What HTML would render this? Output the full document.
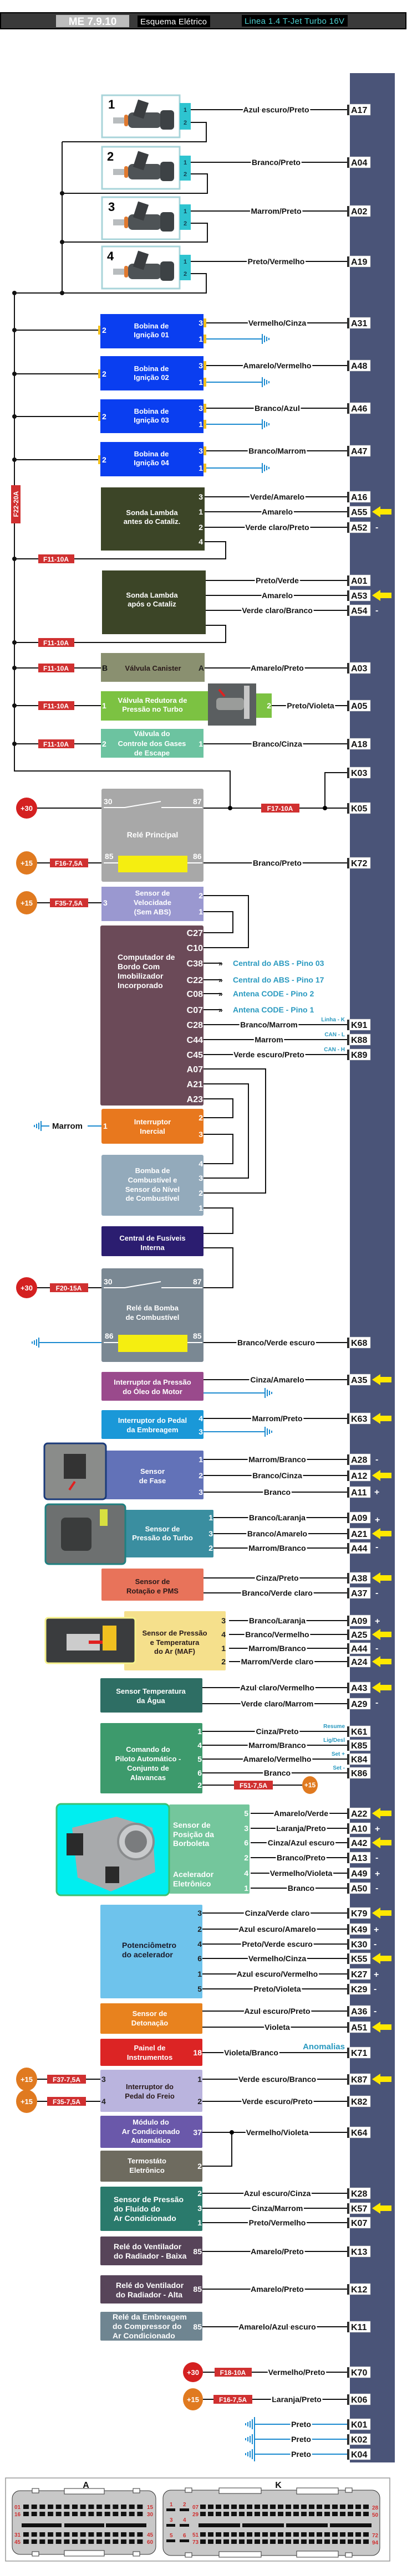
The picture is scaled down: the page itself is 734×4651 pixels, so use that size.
<!DOCTYPE html>
<html><head><meta charset="utf-8"><style>
html,body{margin:0;padding:0;background:#fff}
svg{display:block}
.w{stroke:#111;stroke-width:2;fill:none}
.b{stroke:#1a8ad0;stroke-width:2;fill:none}
.l{font:bold 14px "Liberation Sans",sans-serif;text-anchor:middle;fill:#111;stroke:#fff;stroke-width:5;paint-order:stroke}
.p{font:bold 16px "Liberation Sans",sans-serif;fill:#111}
.t{font:bold 13px "Liberation Sans",sans-serif;fill:#fff;text-anchor:middle}
.tk{font:bold 13px "Liberation Sans",sans-serif;fill:#2a1a1a;text-anchor:middle}
.n{font:bold 14px "Liberation Sans",sans-serif;fill:#fff;text-anchor:end}
.nk{font:bold 14px "Liberation Sans",sans-serif;fill:#222;text-anchor:end}
.f{font:bold 12px "Liberation Sans",sans-serif;fill:#fff;text-anchor:middle}
.c{font:bold 14px "Liberation Sans",sans-serif;fill:#2a9ac0}
.s{font:bold 10px "Liberation Sans",sans-serif;fill:#2a9ac0;text-anchor:end}
.m{font:bold 16px "Liberation Sans",sans-serif;fill:#fff}
.r{font:bold 10px "Liberation Sans",sans-serif;fill:#d03030}
</style></head><body>
<svg width="734" height="4651" viewBox="0 0 734 4651" xmlns="http://www.w3.org/2000/svg">
<defs>
<g id="pb"><rect x="626" y="-9" width="4" height="19" fill="#2a2a2a"/><rect x="630" y="-10" width="38" height="20" fill="#fff" stroke="#aaa" stroke-width=".5"/></g>
<polygon id="ar" points="671,0 686,-10 686,-5 706,-5 706,5 686,5 686,10" fill="#ffe800"/>
<path id="gr" d="M0 -9V9M4 -6V6M8 -4V4M12 -2V2" stroke="#1a8ad0" stroke-width="2" fill="none"/>
<path id="gl" d="M0 -9V9M-4 -6V6M-8 -4V4M-12 -2V2" stroke="#1a8ad0" stroke-width="2" fill="none"/>
<g id="inj">
<rect x="0" y="0" width="140" height="76" fill="#fff" stroke="#a8d4da" stroke-width="3"/>
<rect x="20" y="40" width="26" height="11" fill="#b8bcbe"/>
<rect x="40" y="35" width="7" height="21" rx="3" fill="#e07a30"/>
<rect x="47" y="31" width="60" height="28" rx="8" fill="#4e5356"/>
<rect x="105" y="27" width="25" height="35" rx="6" fill="#3d4245"/>
<rect x="60" y="10" width="20" height="30" fill="#3a3d40" transform="rotate(18 70 25)"/>
</g>
<pattern id="pa" x="42" y="0" width="14.67" height="8" patternUnits="userSpaceOnUse"><rect width="10" height="8" fill="#111"/></pattern>
<pattern id="pk" x="361" y="0" width="14" height="8" patternUnits="userSpaceOnUse"><rect width="10" height="8" fill="#111"/></pattern>
</defs>

<!-- header -->
<rect x="1" y="23" width="731" height="29" fill="#3a3a3a" stroke="#000" stroke-width="2"/>
<rect x="101" y="27" width="132" height="22" fill="#bdbdbd"/>
<text x="167" y="45" font-family="Liberation Sans" font-weight="bold" font-size="19" fill="#fff" text-anchor="middle">ME 7.9.10</text>
<rect x="248" y="28" width="131" height="21" fill="#000"/>
<text x="313" y="44" font-family="Liberation Sans" font-size="15" fill="#fff" text-anchor="middle" textLength="120">Esquema Elétrico</text>
<rect x="436" y="27" width="191" height="21" fill="#000"/>
<text x="531" y="43" font-family="Liberation Sans" font-size="15" fill="#4fd0d0" text-anchor="middle" textLength="180">Linea 1.4 T-Jet Turbo 16V</text>

<!-- ECU bar -->
<rect x="631" y="132" width="81" height="4314" fill="#4a5478"/>

<!-- injectors -->
<use href="#inj" x="184" y="172"/><use href="#inj" x="184" y="265"/><use href="#inj" x="184" y="356"/><use href="#inj" x="184" y="445"/>
<g font-family="Liberation Sans" font-weight="bold" font-size="22" fill="#000">
<text x="195" y="196">1</text><text x="193" y="290">2</text><text x="195" y="381">3</text><text x="193" y="470">4</text></g>
<g fill="#2ec4d0"><rect x="324" y="186" width="20" height="48"/><rect x="324" y="281" width="20" height="45"/><rect x="324" y="369" width="20" height="46"/><rect x="324" y="460" width="20" height="46"/></g>
<g font-family="Liberation Sans" font-weight="bold" font-size="11" fill="#145">
<text x="331" y="202">1</text><text x="331" y="225">2</text><text x="331" y="297">1</text><text x="331" y="318">2</text><text x="331" y="385">1</text><text x="331" y="407">2</text><text x="331" y="476">1</text><text x="331" y="498">2</text></g>
<path class="w" d="M344 221H372V256H112M344 314H374V349H112M344 403H374V437H112M344 494H372V529H26M112 256V529M26 529V1392H415V1459"/>
<g fill="#111"><circle cx="112" cy="349" r="4"/><circle cx="112" cy="437" r="4"/><circle cx="112" cy="529" r="4"/><circle cx="26" cy="529" r="4"/>
<circle cx="26" cy="596" r="4"/><circle cx="26" cy="675" r="4"/><circle cx="26" cy="752" r="4"/><circle cx="26" cy="830" r="4"/><circle cx="26" cy="1009" r="4"/><circle cx="26" cy="1160" r="4"/><circle cx="26" cy="1206" r="4"/><circle cx="26" cy="1274" r="4"/><circle cx="26" cy="1343" r="4"/></g>

<path class="w" d="M344 198H626"/><text class="l" x="498" y="203">Azul escuro/Preto</text><use href="#pb" y="198"/><text class="p" x="633" y="204">A17</text>
<path class="w" d="M344 293H626"/><text class="l" x="498" y="298">Branco/Preto</text><use href="#pb" y="293"/><text class="p" x="633" y="299">A04</text>
<path class="w" d="M344 381H626"/><text class="l" x="498" y="386">Marrom/Preto</text><use href="#pb" y="381"/><text class="p" x="633" y="387">A02</text>
<path class="w" d="M344 472H626"/><text class="l" x="498" y="477">Preto/Vermelho</text><use href="#pb" y="472"/><text class="p" x="633" y="478">A19</text>

<!-- bobinas -->
<g fill="#0a3ef0"><rect x="181" y="567" width="186" height="62"/><rect x="181" y="643" width="186" height="62"/><rect x="181" y="721" width="186" height="61"/><rect x="181" y="798" width="186" height="62"/></g>
<g fill="#f2c020">
<rect x="367" y="575" width="5" height="16"/><rect x="367" y="604" width="5" height="16"/><rect x="177" y="588" width="4" height="16"/>
<rect x="367" y="652" width="5" height="16"/><rect x="367" y="682" width="5" height="16"/><rect x="177" y="667" width="4" height="16"/>
<rect x="367" y="729" width="5" height="16"/><rect x="367" y="758" width="5" height="16"/><rect x="177" y="744" width="4" height="16"/>
<rect x="367" y="806" width="5" height="16"/><rect x="367" y="837" width="5" height="16"/><rect x="177" y="822" width="4" height="16"/></g>
<text class="t" x="273" y="593">Bobina de</text><text class="t" x="273" y="609">Ignição 01</text>
<text class="t" x="273" y="670">Bobina de</text><text class="t" x="273" y="686">Ignição 02</text>
<text class="t" x="273" y="747">Bobina de</text><text class="t" x="273" y="763">Ignição 03</text>
<text class="t" x="273" y="824">Bobina de</text><text class="t" x="273" y="840">Ignição 04</text>
<g class="n"><text x="366" y="588">3</text><text x="366" y="617">1</text><text x="366" y="665">3</text><text x="366" y="695">1</text><text x="366" y="742">3</text><text x="366" y="771">1</text><text x="366" y="819">3</text><text x="366" y="850">1</text></g>
<g font-family="Liberation Sans" font-weight="bold" font-size="14" fill="#fff"><text x="184" y="601">2</text><text x="184" y="680">2</text><text x="184" y="757">2</text><text x="184" y="835">2</text></g>
<path class="w" d="M26 596H177M26 675H177M26 752H177M26 830H177"/>
<path class="b" d="M372 612H473M372 690H473M372 766H473M372 845H473"/>
<use href="#gr" x="473" y="612"/><use href="#gr" x="473" y="690"/><use href="#gr" x="473" y="766"/><use href="#gr" x="473" y="845"/>
<path class="w" d="M372 583H626"/><text class="l" x="500" y="588">Vermelho/Cinza</text><use href="#pb" y="583"/><text class="p" x="633" y="589">A31</text>
<path class="w" d="M372 660H626"/><text class="l" x="500" y="665">Amarelo/Vermelho</text><use href="#pb" y="660"/><text class="p" x="633" y="666">A48</text>
<path class="w" d="M372 737H626"/><text class="l" x="500" y="742">Branco/Azul</text><use href="#pb" y="737"/><text class="p" x="633" y="743">A46</text>
<path class="w" d="M372 814H626"/><text class="l" x="500" y="819">Branco/Marrom</text><use href="#pb" y="814"/><text class="p" x="633" y="820">A47</text>

<!-- F22 -->
<rect x="20" y="876" width="17" height="69" fill="#d03030"/>
<text class="f" transform="translate(33 910) rotate(-90)" x="0" y="0">F22-20A</text>

<!-- sonda antes -->
<rect x="182" y="880" width="187" height="114" fill="#3c4527"/>
<text class="t" x="274" y="930">Sonda Lambda</text><text class="t" x="274" y="946">antes do Cataliz.</text>
<g class="n"><text x="366" y="902">3</text><text x="366" y="929">1</text><text x="366" y="957">2</text><text x="366" y="983">4</text></g>
<path class="w" d="M369 897H626"/><text class="l" x="500" y="902">Verde/Amarelo</text><use href="#pb" y="897"/><text class="p" x="633" y="903">A16</text>
<path class="w" d="M369 924H626"/><text class="l" x="500" y="929">Amarelo</text><use href="#pb" y="924"/><text class="p" x="633" y="930">A55</text><use href="#ar" y="924"/>
<path class="w" d="M369 952H626"/><text class="l" x="500" y="957">Verde claro/Preto</text><use href="#pb" y="952"/><text class="p" x="633" y="958">A52</text><text class="m" x="677" y="957">-</text>
<path class="w" d="M369 978H407V1009H26"/>
<rect x="69" y="1001" width="65" height="16" fill="#d03030"/><text class="f" x="101" y="1014">F11-10A</text>

<!-- sonda apos -->
<rect x="184" y="1030" width="187" height="115" fill="#3c4527"/>
<text class="t" x="274" y="1079">Sonda Lambda</text><text class="t" x="274" y="1095">após o Cataliz</text>
<path class="w" d="M371 1048H626"/><text class="l" x="500" y="1053">Preto/Verde</text><use href="#pb" y="1048"/><text class="p" x="633" y="1054">A01</text>
<path class="w" d="M371 1075H626"/><text class="l" x="500" y="1080">Amarelo</text><use href="#pb" y="1075"/><text class="p" x="633" y="1081">A53</text><use href="#ar" y="1075"/>
<path class="w" d="M371 1102H626"/><text class="l" x="500" y="1107">Verde claro/Branco</text><use href="#pb" y="1102"/><text class="p" x="633" y="1108">A54</text><text class="m" x="677" y="1107">-</text>
<path class="w" d="M371 1129H407V1160H26"/>
<rect x="69" y="1152" width="65" height="16" fill="#d03030"/><text class="f" x="101" y="1165">F11-10A</text>

<!-- canister -->
<rect x="182" y="1179" width="187" height="52" fill="#8a9070"/>
<text class="tk" x="276" y="1211" fill="#111">Válvula Canister</text>
<text x="184" y="1211" font-family="Liberation Sans" font-weight="bold" font-size="14" fill="#111">B</text><text class="nk" x="368" y="1211">A</text>
<path class="w" d="M26 1206H182M369 1206H626"/>
<rect x="69" y="1198" width="65" height="16" fill="#d03030"/><text class="f" x="101" y="1211">F11-10A</text>
<text class="l" x="500" y="1211">Amarelo/Preto</text><use href="#pb" y="1206"/><text class="p" x="633" y="1212">A03</text>

<!-- redutora -->
<rect x="182" y="1248" width="193" height="53" fill="#7cc242"/>
<rect x="375" y="1234" width="87" height="76" fill="#5a5e60"/>
<rect x="390" y="1260" width="50" height="22" rx="6" fill="#9a9c9a"/><rect x="440" y="1238" width="10" height="60" fill="#c8c8c8"/><path d="M395 1245l10 12" stroke="#e02020" stroke-width="4"/>
<rect x="462" y="1252" width="28" height="44" fill="#7cc242"/>
<text class="t" x="275" y="1269">Válvula Redutora de</text><text class="t" x="275" y="1285">Pressão no Turbo</text>
<text class="n" x="489" y="1279">2</text><text x="184" y="1279" font-family="Liberation Sans" font-weight="bold" font-size="14" fill="#fff">1</text>
<path class="w" d="M26 1274H182M490 1274H626"/>
<rect x="69" y="1266" width="65" height="16" fill="#d03030"/><text class="f" x="101" y="1279">F11-10A</text>
<text class="l" x="560" y="1279">Preto/Violeta</text><use href="#pb" y="1274"/><text class="p" x="633" y="1280">A05</text>

<!-- gases -->
<rect x="182" y="1316" width="185" height="52" fill="#6cc3a0"/>
<text class="t" x="274" y="1329">Válvula do</text><text class="t" x="274" y="1347">Controle dos Gases</text><text class="t" x="274" y="1364">de Escape</text>
<text x="184" y="1348" font-family="Liberation Sans" font-weight="bold" font-size="14" fill="#fff">2</text><text class="n" x="366" y="1348">1</text>
<path class="w" d="M26 1343H182M367 1343H626"/>
<rect x="69" y="1335" width="65" height="16" fill="#d03030"/><text class="f" x="101" y="1348">F11-10A</text>
<text class="l" x="500" y="1348">Branco/Cinza</text><use href="#pb" y="1343"/><text class="p" x="633" y="1349">A18</text>
<path class="w" d="M626 1395H586V1459"/><use href="#pb" y="1395"/><text class="p" x="633" y="1401">K03</text>

<!-- rele principal -->
<rect x="183" y="1424" width="184" height="168" rx="3" fill="#a8a8a8"/>
<path d="M187 1458H225L290 1447M291 1458H365M187 1558H213M338 1558H365" stroke="#fff" stroke-width="2" fill="none"/>
<g font-family="Liberation Sans" font-weight="bold" font-size="14" fill="#fff"><text x="187" y="1452">30</text><text x="348" y="1452">87</text><text x="189" y="1551">85</text><text x="348" y="1551">86</text></g>
<text x="275" y="1512" font-family="Liberation Sans" font-weight="bold" font-size="14" fill="#fff" text-anchor="middle">Relé Principal</text>
<rect x="213" y="1545" width="125" height="30" fill="#f5ee10"/>
<circle cx="48" cy="1459" r="19" fill="#d42020"/><text class="t" x="48" y="1464" font-size="14">+30</text>
<path class="w" d="M67 1459H183M367 1459H626"/>
<circle cx="415" cy="1459" r="4"/><circle cx="586" cy="1459" r="4"/>
<rect x="471" y="1451" width="69" height="16" fill="#d03030"/><text class="f" x="505" y="1464">F17-10A</text>
<use href="#pb" y="1459"/><text class="p" x="633" y="1465">K05</text>
<ellipse cx="48" cy="1558" rx="19" ry="21" fill="#e07a20"/><text class="t" x="48" y="1563" font-size="14">+15</text>
<path class="w" d="M67 1558H183M367 1558H626"/>
<rect x="90" y="1550" width="69" height="16" fill="#d03030"/><text class="f" x="124" y="1563">F16-7,5A</text>
<text class="l" x="500" y="1563">Branco/Preto</text><use href="#pb" y="1558"/><text class="p" x="633" y="1564">K72</text>

<!-- sensor velocidade -->
<rect x="183" y="1601" width="184" height="62" fill="#9a98d0"/>
<text class="t" x="275" y="1617">Sensor de</text><text class="t" x="275" y="1634">Velocidade</text><text class="t" x="275" y="1651">(Sem ABS)</text>
<g class="n"><text x="366" y="1622">2</text><text x="366" y="1651">1</text></g>
<text x="186" y="1635" font-family="Liberation Sans" font-weight="bold" font-size="14" fill="#fff">3</text>
<ellipse cx="48" cy="1630" rx="19" ry="21" fill="#e07a20"/><text class="t" x="48" y="1635" font-size="14">+15</text>
<path class="w" d="M67 1630H183"/>
<rect x="90" y="1622" width="69" height="16" fill="#d03030"/><text class="f" x="124" y="1635">F35-7,5A</text>
<path class="w" d="M367 1617H448V1711H367M367 1646H420V1684H367"/>

<!-- computador -->
<rect x="181" y="1671" width="186" height="325" rx="3" fill="#6b4a58"/>
<g font-family="Liberation Sans" font-weight="bold" font-size="14" fill="#fff"><text x="212" y="1733">Computador de</text><text x="212" y="1750">Bordo Com</text><text x="212" y="1767">Imobilizador</text><text x="212" y="1784">Incorporado</text></g>
<g font-family="Liberation Sans" font-weight="bold" font-size="16" fill="#fff" text-anchor="end">
<text x="366" y="1690">C27</text><text x="366" y="1717">C10</text><text x="366" y="1745">C38</text><text x="366" y="1775">C22</text><text x="366" y="1800">C08</text><text x="366" y="1829">C07</text><text x="366" y="1856">C28</text><text x="366" y="1883">C44</text><text x="366" y="1910">C45</text><text x="366" y="1936">A07</text><text x="366" y="1963">A21</text><text x="366" y="1990">A23</text></g>
<path class="w" d="M367 1739H400M367 1769H400M367 1794H400M367 1823H400"/>
<g font-family="Liberation Sans" font-weight="bold" font-size="14" fill="#111"><text x="394" y="1744">»</text><text x="394" y="1774">»</text><text x="394" y="1799">»</text><text x="394" y="1828">»</text></g>
<text class="c" x="420" y="1744">Central do ABS - Pino 03</text><text class="c" x="420" y="1774">Central do ABS - Pino 17</text>
<text class="c" x="420" y="1799">Antena CODE - Pino 2</text><text class="c" x="420" y="1828">Antena CODE - Pino 1</text>
<path class="w" d="M367 1850H626"/><text class="l" x="485" y="1855">Branco/Marrom</text><text class="s" x="622" y="1844">Linha - K</text><use href="#pb" y="1850"/><text class="p" x="633" y="1856">K91</text>
<path class="w" d="M367 1877H626"/><text class="l" x="485" y="1882">Marrom</text><text class="s" x="622" y="1871">CAN - L</text><use href="#pb" y="1877"/><text class="p" x="633" y="1883">K88</text>
<path class="w" d="M367 1904H626"/><text class="l" x="485" y="1909">Verde escuro/Preto</text><text class="s" x="622" y="1898">CAN - H</text><use href="#pb" y="1904"/><text class="p" x="633" y="1910">K89</text>
<path class="w" d="M367 1930H479V2154H367M367 1957H448V2127H367M367 1984H420V2018H367M367 2048H420V2101H367M367 2181H420V2227H367M367 2253H420V2325H367"/>

<!-- inercial -->
<rect x="183" y="2002" width="184" height="63" rx="3" fill="#e8781e"/>
<text class="t" x="275" y="2030">Interruptor</text><text class="t" x="275" y="2047">Inercial</text>
<g class="n"><text x="366" y="2023">2</text><text x="366" y="2053">3</text></g>
<text x="186" y="2038" font-family="Liberation Sans" font-weight="bold" font-size="14" fill="#fff">1</text>
<path class="b" d="M75 2033H89M158 2033H183"/><use href="#gl" x="74" y="2033"/>
<text x="94" y="2038" font-family="Liberation Sans" font-weight="bold" font-size="15" fill="#111">Marrom</text>

<!-- bomba -->
<rect x="183" y="2085" width="184" height="110" rx="3" fill="#93aabb"/>
<text class="t" x="275" y="2118">Bomba de</text><text class="t" x="275" y="2135">Combustível e</text><text class="t" x="275" y="2152">Sensor do Nível</text><text class="t" x="275" y="2168">de Combustível</text>
<g class="n"><text x="366" y="2106">4</text><text x="366" y="2132">3</text><text x="366" y="2159">2</text><text x="366" y="2186">1</text></g>

<!-- central fusiveis -->
<rect x="183" y="2214" width="184" height="54" rx="2" fill="#2b1d70"/>
<text class="t" x="275" y="2240">Central de Fusíveis</text><text class="t" x="275" y="2257">Interna</text>

<!-- rele bomba -->
<rect x="183" y="2290" width="184" height="169" rx="3" fill="#7a8893"/>
<path d="M187 2325H225L290 2314M291 2325H365M187 2424H213M338 2424H365" stroke="#fff" stroke-width="2" fill="none"/>
<g font-family="Liberation Sans" font-weight="bold" font-size="14" fill="#fff"><text x="187" y="2319">30</text><text x="348" y="2319">87</text><text x="189" y="2417">86</text><text x="348" y="2417">85</text></g>
<text class="t" x="275" y="2366">Relé da Bomba</text><text class="t" x="275" y="2383">de Combustível</text>
<rect x="213" y="2410" width="125" height="31" fill="#f5ee10"/>
<circle cx="48" cy="2325" r="19" fill="#d42020"/><text class="t" x="48" y="2330" font-size="14">+30</text>
<path class="w" d="M67 2325H183"/>
<rect x="90" y="2317" width="69" height="16" fill="#d03030"/><text class="f" x="124" y="2330">F20-15A</text>
<path class="b" d="M70 2424H183"/><use href="#gl" x="70" y="2424"/>
<path class="w" d="M367 2424H626"/><text class="l" x="498" y="2429">Branco/Verde escuro</text><use href="#pb" y="2424"/><text class="p" x="633" y="2430">K68</text>

<!-- oleo -->
<rect x="183" y="2477" width="184" height="52" rx="2" fill="#9a4a8c"/>
<text class="t" x="275" y="2500">Interruptor da Pressão</text><text class="t" x="275" y="2517">do Óleo do Motor</text>
<path class="w" d="M367 2491H626"/><text class="l" x="500" y="2496">Cinza/Amarelo</text><use href="#pb" y="2491"/><text class="p" x="633" y="2497">A35</text><use href="#ar" y="2491"/>
<path class="b" d="M367 2515H478"/><use href="#gr" x="478" y="2515"/>

<!-- embreagem -->
<rect x="183" y="2546" width="184" height="52" rx="2" fill="#1a98d8"/>
<text class="t" x="275" y="2569">Interruptor do Pedal</text><text class="t" x="275" y="2586">da Embreagem</text>
<g class="n"><text x="366" y="2566">4</text><text x="366" y="2590">3</text></g>
<path class="w" d="M367 2561H626"/><text class="l" x="500" y="2566">Marrom/Preto</text><use href="#pb" y="2561"/><text class="p" x="633" y="2567">K63</text><use href="#ar" y="2561"/>
<path class="b" d="M367 2585H478"/><use href="#gr" x="478" y="2585"/>

<!-- sensor fase -->
<rect x="188" y="2619" width="179" height="88" rx="2" fill="#6272b8"/>
<rect x="80" y="2606" width="111" height="101" rx="6" fill="#8a8c8a" stroke="#1a3a7a" stroke-width="3"/>
<rect x="115" y="2625" width="40" height="45" fill="#333"/><path d="M125 2690l10-15" stroke="#e02020" stroke-width="4"/>
<text class="t" x="275" y="2661">Sensor</text><text class="t" x="275" y="2678">de Fase</text>
<g class="n"><text x="366" y="2640">1</text><text x="366" y="2669">2</text><text x="366" y="2699">3</text></g>
<path class="w" d="M367 2635H626"/><text class="l" x="500" y="2640">Marrom/Branco</text><use href="#pb" y="2635"/><text class="p" x="633" y="2641">A28</text><text class="m" x="677" y="2640">-</text>
<path class="w" d="M367 2664H626"/><text class="l" x="500" y="2669">Branco/Cinza</text><use href="#pb" y="2664"/><text class="p" x="633" y="2670">A12</text><use href="#ar" y="2664"/>
<path class="w" d="M367 2694H626"/><text class="l" x="500" y="2699">Branco</text><use href="#pb" y="2694"/><text class="p" x="633" y="2700">A11</text><text class="m" x="675" y="2699">+</text>

<!-- turbo -->
<rect x="226" y="2726" width="159" height="86" rx="2" fill="#3a8ea0"/>
<rect x="82" y="2716" width="144" height="108" rx="6" fill="#6d7070" stroke="#1f8080" stroke-width="3"/>
<rect x="110" y="2740" width="55" height="60" rx="8" fill="#3a3c3c"/><rect x="180" y="2725" width="14" height="30" fill="#d8e040"/>
<text class="t" x="293" y="2765">Sensor de</text><text class="t" x="293" y="2781">Pressão do Turbo</text>
<g class="n"><text x="384" y="2745">1</text><text x="384" y="2774">3</text><text x="384" y="2800">2</text></g>
<path class="w" d="M385 2740H626"/><text class="l" x="500" y="2745">Branco/Laranja</text><use href="#pb" y="2740"/><text class="p" x="633" y="2746">A09</text><text class="m" x="676" y="2749">+</text>
<path class="w" d="M385 2769H626"/><text class="l" x="500" y="2774">Branco/Amarelo</text><use href="#pb" y="2769"/><text class="p" x="633" y="2775">A21</text><use href="#ar" y="2769"/>
<path class="w" d="M385 2795H626"/><text class="l" x="500" y="2800">Marrom/Branco</text><use href="#pb" y="2795"/><text class="p" x="633" y="2801">A44</text><text class="m" x="677" y="2798">-</text>

<!-- rotacao -->
<rect x="183" y="2832" width="184" height="58" rx="2" fill="#e8735a"/>
<text class="tk" x="275" y="2860">Sensor de</text><text class="tk" x="275" y="2877">Rotação e PMS</text>
<path class="w" d="M367 2849H626"/><text class="l" x="500" y="2854">Cinza/Preto</text><use href="#pb" y="2849"/><text class="p" x="633" y="2855">A38</text><use href="#ar" y="2849"/>
<path class="w" d="M367 2876H626"/><text class="l" x="500" y="2881">Branco/Verde claro</text><use href="#pb" y="2876"/><text class="p" x="633" y="2882">A37</text><text class="m" x="677" y="2881">-</text>

<!-- MAF -->
<rect x="224" y="2909" width="183" height="107" rx="2" fill="#f5e08c"/>
<rect x="82" y="2921" width="162" height="82" rx="5" fill="#3a3c3e" stroke="#f5f08a" stroke-width="3"/>
<rect x="120" y="2950" width="60" height="30" fill="#ccc"/><rect x="185" y="2935" width="25" height="45" fill="#f0c020"/><path d="M160 2965h25" stroke="#e02020" stroke-width="6"/>
<text class="tk" x="315" y="2953" fill="#111">Sensor de Pressão</text><text class="tk" x="315" y="2970">e Temperatura</text><text class="tk" x="315" y="2986">do Ar (MAF)</text>
<g class="nk"><text x="407" y="2931">3</text><text x="407" y="2956">4</text><text x="407" y="2981">1</text><text x="407" y="3005">2</text></g>
<path class="w" d="M413 2926H626"/><text class="l" x="500" y="2931">Branco/Laranja</text><use href="#pb" y="2926"/><text class="p" x="633" y="2932">A09</text><text class="m" x="676" y="2932">+</text>
<path class="w" d="M413 2951H626"/><text class="l" x="500" y="2956">Branco/Vermelho</text><use href="#pb" y="2951"/><text class="p" x="633" y="2957">A25</text><use href="#ar" y="2951"/>
<path class="w" d="M413 2976H626"/><text class="l" x="500" y="2981">Marrom/Branco</text><use href="#pb" y="2976"/><text class="p" x="633" y="2982">A44</text><text class="m" x="677" y="2981">-</text>
<path class="w" d="M413 3000H626"/><text class="l" x="500" y="3005">Marrom/Verde claro</text><use href="#pb" y="3000"/><text class="p" x="633" y="3006">A24</text><use href="#ar" y="3000"/>

<!-- agua -->
<rect x="181" y="3030" width="184" height="62" rx="2" fill="#2e6e64"/>
<text class="t" x="272" y="3058">Sensor Temperatura</text><text class="t" x="272" y="3075">da Água</text>
<path class="w" d="M365 3047H626"/><text class="l" x="500" y="3052">Azul claro/Vermelho</text><use href="#pb" y="3047"/><text class="p" x="633" y="3053">A43</text><use href="#ar" y="3047"/>
<path class="w" d="M365 3076H626"/><text class="l" x="500" y="3081">Verde claro/Marrom</text><use href="#pb" y="3076"/><text class="p" x="633" y="3082">A29</text><text class="m" x="677" y="3079">-</text>

<!-- comando piloto -->
<rect x="181" y="3111" width="184" height="127" rx="2" fill="#3d9a6c"/>
<text class="t" x="267" y="3163">Comando do</text><text class="t" x="267" y="3180">Piloto Automático -</text><text class="t" x="267" y="3197">Conjunto de</text><text class="t" x="267" y="3214">Alavancas</text>
<g class="n"><text x="364" y="3131">1</text><text x="364" y="3156">4</text><text x="364" y="3181">5</text><text x="364" y="3206">6</text><text x="364" y="3228">2</text></g>
<path class="w" d="M365 3126H626"/><text class="l" x="500" y="3131">Cinza/Preto</text><text class="s" x="622" y="3120">Resume</text><use href="#pb" y="3126"/><text class="p" x="633" y="3132">K61</text>
<path class="w" d="M365 3151H626"/><text class="l" x="500" y="3156">Marrom/Branco</text><text class="s" x="622" y="3145">Lig/Desl</text><use href="#pb" y="3151"/><text class="p" x="633" y="3157">K85</text>
<path class="w" d="M365 3176H626"/><text class="l" x="500" y="3181">Amarelo/Vermelho</text><text class="s" x="622" y="3170">Set +</text><use href="#pb" y="3176"/><text class="p" x="633" y="3182">K84</text>
<path class="w" d="M365 3201H626"/><text class="l" x="500" y="3206">Branco</text><text class="s" x="622" y="3195">Set -</text><use href="#pb" y="3201"/><text class="p" x="633" y="3207">K86</text>
<path class="w" d="M365 3223H545"/>
<rect x="422" y="3215" width="70" height="16" fill="#d03030"/><text class="f" x="457" y="3228">F51-7,5A</text>
<ellipse cx="559" cy="3223" rx="14" ry="16" fill="#e07a20"/><text class="f" x="559" y="3227" font-size="10">+15</text>

<!-- borboleta -->
<rect x="305" y="3258" width="145" height="161" rx="2" fill="#74c69c"/>
<rect x="102" y="3257" width="203" height="165" rx="8" fill="#00eef0" stroke="#3cc070" stroke-width="3"/>
<path d="M130 3300 L210 3280 L275 3300 L280 3380 L200 3415 L140 3390 Z" fill="#a8aaac"/>
<circle cx="245" cy="3325" r="32" fill="#c8cacc" stroke="#8a8c8e" stroke-width="4"/><circle cx="245" cy="3325" r="20" fill="#7a7c7e"/>
<rect x="120" y="3310" width="30" height="40" fill="#2a2a2a"/><rect x="190" y="3370" width="25" height="30" fill="#2a2a2a"/>
<g font-family="Liberation Sans" font-weight="bold" font-size="14" fill="#fff"><text x="312" y="3300">Sensor de</text><text x="312" y="3317">Posição da</text><text x="312" y="3333">Borboleta</text><text x="312" y="3389">Acelerador</text><text x="312" y="3406">Eletrônico</text></g>
<g class="n"><text x="448" y="3279">5</text><text x="448" y="3306">3</text><text x="448" y="3332">6</text><text x="448" y="3359">2</text><text x="448" y="3387">4</text><text x="448" y="3414">1</text></g>
<path class="w" d="M452 3274H626"/><text class="l" x="543" y="3279">Amarelo/Verde</text><use href="#pb" y="3274"/><text class="p" x="633" y="3280">A22</text><use href="#ar" y="3274"/>
<path class="w" d="M452 3301H626"/><text class="l" x="543" y="3306">Laranja/Preto</text><use href="#pb" y="3301"/><text class="p" x="633" y="3307">A10</text><text class="m" x="676" y="3307">+</text>
<path class="w" d="M452 3327H626"/><text class="l" x="543" y="3332">Cinza/Azul escuro</text><use href="#pb" y="3327"/><text class="p" x="633" y="3333">A42</text><use href="#ar" y="3327"/>
<path class="w" d="M452 3354H626"/><text class="l" x="543" y="3359">Branco/Preto</text><use href="#pb" y="3354"/><text class="p" x="633" y="3360">A13</text><text class="m" x="677" y="3359">-</text>
<path class="w" d="M452 3382H626"/><text class="l" x="543" y="3387">Vermelho/Violeta</text><use href="#pb" y="3382"/><text class="p" x="633" y="3388">A49</text><text class="m" x="676" y="3388">+</text>
<path class="w" d="M452 3409H626"/><text class="l" x="543" y="3414">Branco</text><use href="#pb" y="3409"/><text class="p" x="633" y="3415">A50</text><text class="m" x="677" y="3414">-</text>

<!-- potenciometro -->
<rect x="181" y="3439" width="184" height="169" rx="2" fill="#6ec3ec"/>
<g font-family="Liberation Sans" font-weight="bold" font-size="14" fill="#1a1a2a"><text x="220" y="3517">Potenciômetro</text><text x="220" y="3534">do acelerador</text></g>
<g class="nk"><text x="364" y="3459">3</text><text x="364" y="3488">2</text><text x="364" y="3515">4</text><text x="364" y="3541">6</text><text x="364" y="3569">1</text><text x="364" y="3596">5</text></g>
<path class="w" d="M365 3454H626"/><text class="l" x="500" y="3459">Cinza/Verde claro</text><use href="#pb" y="3454"/><text class="p" x="633" y="3460">K79</text><use href="#ar" y="3454"/>
<path class="w" d="M365 3483H626"/><text class="l" x="500" y="3488">Azul escuro/Amarelo</text><use href="#pb" y="3483"/><text class="p" x="633" y="3489">K49</text><text class="m" x="674" y="3489" font-size="13">+</text>
<path class="w" d="M365 3510H626"/><text class="l" x="500" y="3515">Preto/Verde escuro</text><use href="#pb" y="3510"/><text class="p" x="633" y="3516">K30</text><text class="m" x="674" y="3515" font-size="13">-</text>
<path class="w" d="M365 3536H626"/><text class="l" x="500" y="3541">Vermelho/Cinza</text><use href="#pb" y="3536"/><text class="p" x="633" y="3542">K55</text><use href="#ar" y="3536"/>
<path class="w" d="M365 3564H626"/><text class="l" x="500" y="3569">Azul escuro/Vermelho</text><use href="#pb" y="3564"/><text class="p" x="633" y="3570">K27</text><text class="m" x="674" y="3570" font-size="13">+</text>
<path class="w" d="M365 3591H626"/><text class="l" x="500" y="3596">Preto/Violeta</text><use href="#pb" y="3591"/><text class="p" x="633" y="3597">K29</text><text class="m" x="674" y="3596" font-size="13">-</text>

<!-- detonacao -->
<rect x="181" y="3617" width="184" height="55" rx="2" fill="#e8821e"/>
<text class="t" x="270" y="3640">Sensor de</text><text class="t" x="270" y="3657">Detonação</text>
<path class="w" d="M365 3631H626"/><text class="l" x="500" y="3636">Azul escuro/Preto</text><use href="#pb" y="3631"/><text class="p" x="633" y="3637">A36</text><text class="m" x="674" y="3636" font-size="13">-</text>
<path class="w" d="M365 3660H626"/><text class="l" x="500" y="3665">Violeta</text><use href="#pb" y="3660"/><text class="p" x="633" y="3666">A51</text><use href="#ar" y="3660"/>

<!-- painel -->
<rect x="181" y="3681" width="184" height="49" rx="2" fill="#dc2424"/>
<text class="t" x="270" y="3702">Painel de</text><text class="t" x="270" y="3719">Instrumentos</text>
<text class="n" x="364" y="3711">18</text>
<path class="w" d="M365 3706H626"/><text class="l" x="453" y="3711">Violeta/Branco</text>
<text x="584" y="3700" font-family="Liberation Sans" font-weight="bold" font-size="15" fill="#2a9ac0" text-anchor="middle">Anomalias</text>
<use href="#pb" y="3706"/><text class="p" x="633" y="3712">K71</text>

<!-- freio -->
<rect x="181" y="3737" width="184" height="76" rx="2" fill="#bab4de"/>
<text class="tk" x="270" y="3772" fill="#222">Interruptor do</text><text class="tk" x="270" y="3789" fill="#222">Pedal do Freio</text>
<g font-family="Liberation Sans" font-weight="bold" font-size="14" fill="#222"><text x="183" y="3759">3</text><text x="183" y="3799">4</text></g>
<g class="nk"><text x="364" y="3759">1</text><text x="364" y="3799">2</text></g>
<ellipse cx="48" cy="3754" rx="19" ry="21" fill="#e07a20"/><text class="t" x="48" y="3759" font-size="14">+15</text>
<ellipse cx="48" cy="3794" rx="19" ry="21" fill="#e07a20"/><text class="t" x="48" y="3799" font-size="14">+15</text>
<path class="w" d="M67 3754H181M67 3794H181"/>
<rect x="85" y="3746" width="70" height="16" fill="#d03030"/><text class="f" x="120" y="3759">F37-7,5A</text>
<rect x="85" y="3786" width="70" height="16" fill="#d03030"/><text class="f" x="120" y="3799">F35-7,5A</text>
<path class="w" d="M365 3754H626"/><text class="l" x="500" y="3759">Verde escuro/Branco</text><use href="#pb" y="3754"/><text class="p" x="633" y="3760">K87</text><use href="#ar" y="3754"/>
<path class="w" d="M365 3794H626"/><text class="l" x="500" y="3799">Verde escuro/Preto</text><use href="#pb" y="3794"/><text class="p" x="633" y="3800">K82</text>

<!-- modulo AC / termostato -->
<rect x="181" y="3820" width="184" height="58" rx="2" fill="#6a58aa"/>
<text class="t" x="272" y="3836">Módulo do</text><text class="t" x="272" y="3853">Ar Condicionado</text><text class="t" x="272" y="3869">Automático</text>
<text class="n" x="364" y="3855">37</text>
<rect x="181" y="3883" width="184" height="56" rx="2" fill="#6e6b5f"/>
<text class="t" x="265" y="3906">Termostáto</text><text class="t" x="265" y="3923">Eletrônico</text>
<text class="n" x="364" y="3916">2</text>
<path class="w" d="M365 3850H626M365 3911H418V3850"/><circle cx="418" cy="3850" r="4"/>
<text class="l" x="500" y="3855">Vermelho/Violeta</text><use href="#pb" y="3850"/><text class="p" x="633" y="3856">K64</text>

<!-- fluido -->
<rect x="181" y="3948" width="184" height="80" rx="2" fill="#2a7a6c"/>
<g font-family="Liberation Sans" font-weight="bold" font-size="14" fill="#fff"><text x="205" y="3976">Sensor de Pressão</text><text x="205" y="3993">do Fluído do</text><text x="205" y="4010">Ar Condicionado</text></g>
<g class="n"><text x="364" y="3965">2</text><text x="364" y="3992">3</text><text x="364" y="4018">1</text></g>
<path class="w" d="M365 3960H626"/><text class="l" x="500" y="3965">Azul escuro/Cinza</text><use href="#pb" y="3960"/><text class="p" x="633" y="3966">K28</text>
<path class="w" d="M365 3987H626"/><text class="l" x="500" y="3992">Cinza/Marrom</text><use href="#pb" y="3987"/><text class="p" x="633" y="3993">K57</text><use href="#ar" y="3987"/>
<path class="w" d="M365 4013H626"/><text class="l" x="500" y="4018">Preto/Vermelho</text><use href="#pb" y="4013"/><text class="p" x="633" y="4019">K07</text>

<!-- reles ventilador -->
<rect x="181" y="4038" width="184" height="52" rx="2" fill="#574459"/>
<g font-family="Liberation Sans" font-weight="bold" font-size="14" fill="#fff"><text x="205" y="4061">Relé do Ventilador</text><text x="205" y="4078">do Radiador - Baixa</text>
<text x="209" y="4131">Relé do Ventilador</text><text x="209" y="4148">do Radiador - Alta</text>
<text x="203" y="4188">Relé da Embreagem</text><text x="203" y="4205">do Compressor do</text><text x="203" y="4222">Ar Condicionado</text></g>
<text class="n" x="364" y="4070">85</text>
<path class="w" d="M365 4065H626"/><text class="l" x="500" y="4070">Amarelo/Preto</text><use href="#pb" y="4065"/><text class="p" x="633" y="4071">K13</text>
<rect x="181" y="4108" width="184" height="51" rx="2" fill="#574459" fill-opacity="1"/>
<g font-family="Liberation Sans" font-weight="bold" font-size="14" fill="#fff"><text x="209" y="4131">Relé do Ventilador</text><text x="209" y="4148">do Radiador - Alta</text></g>
<text class="n" x="364" y="4138">85</text>
<path class="w" d="M365 4133H626"/><text class="l" x="500" y="4138">Amarelo/Preto</text><use href="#pb" y="4133"/><text class="p" x="633" y="4139">K12</text>
<rect x="181" y="4174" width="184" height="52" rx="2" fill="#6f8591"/>
<g font-family="Liberation Sans" font-weight="bold" font-size="14" fill="#fff"><text x="203" y="4188">Relé da Embreagem</text><text x="203" y="4205">do Compressor do</text><text x="203" y="4222">Ar Condicionado</text></g>
<text class="n" x="364" y="4206">85</text>
<path class="w" d="M365 4201H626"/><text class="l" x="500" y="4206">Amarelo/Azul escuro</text><use href="#pb" y="4201"/><text class="p" x="633" y="4207">K11</text>

<!-- supplies -->
<circle cx="348" cy="4283" r="18" fill="#d42020"/><text class="t" x="348" y="4288" font-size="14">+30</text>
<path class="w" d="M366 4283H626"/>
<rect x="387" y="4275" width="67" height="16" fill="#d03030"/><text class="f" x="420" y="4288">F18-10A</text>
<text class="l" x="535" y="4288">Vermelho/Preto</text><use href="#pb" y="4283"/><text class="p" x="633" y="4289">K70</text>
<ellipse cx="348" cy="4332" rx="18" ry="20" fill="#e07a20"/><text class="t" x="348" y="4337" font-size="14">+15</text>
<path class="w" d="M366 4332H626"/>
<rect x="385" y="4324" width="70" height="16" fill="#d03030"/><text class="f" x="420" y="4337">F16-7,5A</text>
<text class="l" x="535" y="4337">Laranja/Preto</text><use href="#pb" y="4332"/><text class="p" x="633" y="4338">K06</text>
<path class="b" d="M459 4377H626M459 4404H626M459 4431H626M459 4364V4444"/>
<use href="#gl" x="455" y="4377"/><use href="#gl" x="455" y="4404"/><use href="#gl" x="455" y="4431"/>
<text class="l" x="543" y="4382">Preto</text><use href="#pb" y="4377"/><text class="p" x="633" y="4383">K01</text>
<text class="l" x="543" y="4409">Preto</text><use href="#pb" y="4404"/><text class="p" x="633" y="4410">K02</text>
<text class="l" x="543" y="4436">Preto</text><use href="#pb" y="4431"/><text class="p" x="633" y="4437">K04</text>

<!-- connectors -->
<rect x="10" y="4474" width="693" height="150" fill="#fff" stroke="#999" stroke-width="1.5"/>
<text x="155" y="4492" font-family="Liberation Sans" font-weight="bold" font-size="16" fill="#111" text-anchor="middle">A</text>
<text x="502" y="4492" font-family="Liberation Sans" font-weight="bold" font-size="16" fill="#111" text-anchor="middle">K</text>
<rect x="22" y="4497" width="259" height="115" rx="14" fill="#c8c8c8" stroke="#333" stroke-width="1"/>
<g fill="#fff" stroke="#333" stroke-width="1">
<rect x="116" y="4493" width="72" height="10"/><rect x="58" y="4493" width="12" height="8"/><rect x="240" y="4493" width="12" height="8"/>
<rect x="116" y="4605" width="72" height="10"/><rect x="58" y="4607" width="12" height="8"/><rect x="240" y="4607" width="12" height="8"/></g>
<rect x="42" y="4522" width="220" height="8" fill="url(#pa)"/><rect x="42" y="4535" width="220" height="8" fill="url(#pa)"/>
<rect x="42" y="4572" width="220" height="8" fill="url(#pa)"/><rect x="42" y="4585" width="220" height="8" fill="url(#pa)"/>
<g fill="#111"><rect x="39" y="4556" width="72" height="7"/><rect x="116" y="4556" width="72" height="7"/><rect x="191" y="4556" width="73" height="7"/></g>
<g class="r"><text x="26" y="4530">01</text><text x="26" y="4543">16</text><text x="26" y="4580">31</text><text x="26" y="4593">45</text>
<text x="265" y="4530">15</text><text x="265" y="4543">30</text><text x="265" y="4580">45</text><text x="265" y="4593">60</text></g>
<rect x="294" y="4496" width="391" height="118" rx="14" fill="#c8c8c8" stroke="#333" stroke-width="1"/>
<g fill="#fff" stroke="#333" stroke-width="1">
<rect x="395" y="4492" width="76" height="10"/><rect x="535" y="4492" width="75" height="11"/><rect x="334" y="4492" width="12" height="8"/><rect x="623" y="4492" width="12" height="8"/>
<rect x="395" y="4607" width="76" height="10"/><rect x="535" y="4606" width="75" height="11"/><rect x="334" y="4609" width="12" height="8"/><rect x="623" y="4609" width="12" height="8"/></g>
<rect x="361" y="4522" width="308" height="8" fill="url(#pk)"/><rect x="361" y="4535" width="308" height="8" fill="url(#pk)"/>
<rect x="361" y="4572" width="308" height="8" fill="url(#pk)"/><rect x="361" y="4585" width="308" height="8" fill="url(#pk)"/>
<g fill="#111"><rect x="358" y="4556" width="75" height="7"/><rect x="437" y="4556" width="75" height="7"/><rect x="516" y="4556" width="75" height="7"/><rect x="595" y="4556" width="75" height="7"/>
<rect x="300" y="4529" width="16" height="5"/><rect x="324" y="4529" width="17" height="5"/><rect x="300" y="4557" width="16" height="5"/><rect x="324" y="4557" width="17" height="5"/><rect x="300" y="4585" width="16" height="5"/><rect x="324" y="4585" width="17" height="5"/></g>
<g class="r"><text x="306" y="4525">1</text><text x="330" y="4525">2</text><text x="306" y="4553">3</text><text x="330" y="4553">4</text><text x="306" y="4581">5</text><text x="330" y="4581">6</text>
<text x="347" y="4530">07</text><text x="347" y="4543">29</text><text x="347" y="4580">51</text><text x="347" y="4593">73</text>
<text x="671" y="4531">28</text><text x="671" y="4544">50</text><text x="671" y="4581">72</text><text x="671" y="4594">94</text></g>
</svg>
</body></html>
